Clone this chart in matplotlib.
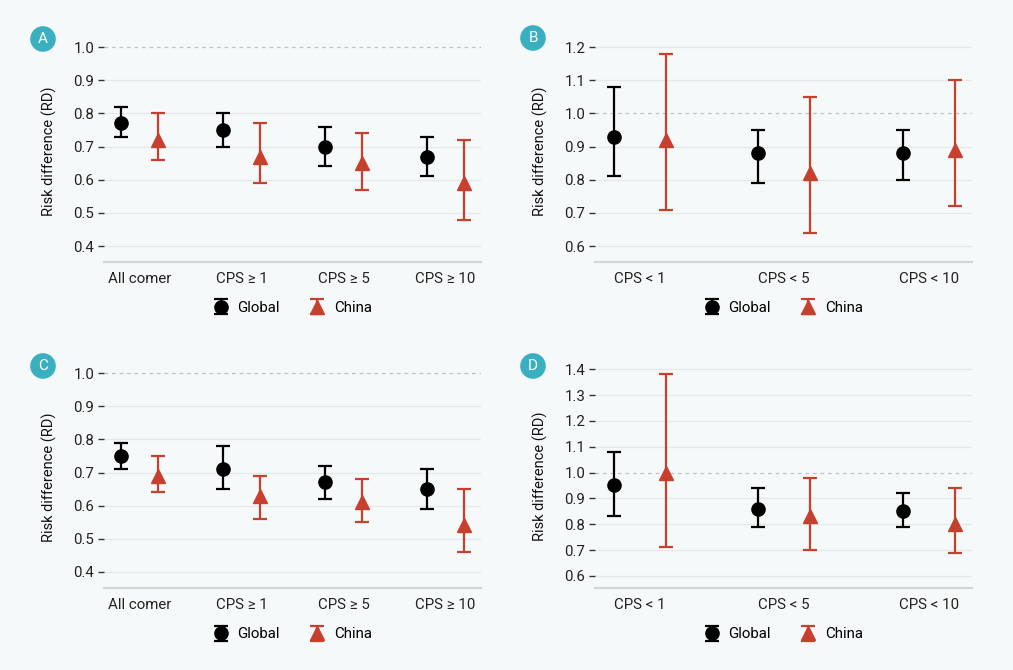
import matplotlib
matplotlib.use("Agg")
import matplotlib.pyplot as plt
import numpy as np

plt.rcParams["font.family"] = ["Roboto", "DejaVu Sans"]

# data
cats_ge = ["All comer", "CPS \u2265 1", "CPS \u2265 5", "CPS \u2265 10"]
cats_lt = ["CPS < 1", "CPS < 5", "CPS < 10"]

a_global = [0.77, 0.75, 0.70, 0.67]
a_global_lo = [0.73, 0.70, 0.64, 0.61]
a_global_hi = [0.82, 0.80, 0.76, 0.73]
a_china = [0.72, 0.67, 0.65, 0.59]
a_china_lo = [0.66, 0.59, 0.57, 0.48]
a_china_hi = [0.80, 0.77, 0.74, 0.72]

b_global = [0.93, 0.88, 0.88]
b_global_lo = [0.81, 0.79, 0.80]
b_global_hi = [1.08, 0.95, 0.95]
b_china = [0.92, 0.82, 0.89]
b_china_lo = [0.71, 0.64, 0.72]
b_china_hi = [1.18, 1.05, 1.10]

c_global = [0.75, 0.71, 0.67, 0.65]
c_global_lo = [0.71, 0.65, 0.62, 0.59]
c_global_hi = [0.79, 0.78, 0.72, 0.71]
c_china = [0.69, 0.63, 0.61, 0.54]
c_china_lo = [0.64, 0.56, 0.55, 0.46]
c_china_hi = [0.75, 0.69, 0.68, 0.65]

d_global = [0.95, 0.86, 0.85]
d_global_lo = [0.83, 0.79, 0.79]
d_global_hi = [1.08, 0.94, 0.92]
d_china = [1.00, 0.83, 0.80]
d_china_lo = [0.71, 0.70, 0.69]
d_china_hi = [1.38, 0.98, 0.94]

BG = "#f6f9f9"
RED = "#c7402d"
TEAL = "#3aafbf"
W, H = 1013, 670

fig = plt.figure(figsize=(W / 100, H / 100), dpi=100, facecolor=BG)


def make_axes(left, right, bottom, top):
    # pixel box -> figure fraction
    return fig.add_axes([left / W, (H - bottom) / H, (right - left) / W, (bottom - top) / H])


def panel(ax, cats, g, glo, ghi, c, clo, chi, ylim, yticks, xlim):
    ax.set_facecolor(BG)
    x = np.arange(1, len(cats) + 1)
    dodge = 0.18
    g = np.array(g); c = np.array(c)
    ax.errorbar(x - dodge, g, yerr=[g - np.array(glo), np.array(ghi) - g],
                fmt="o", color="black", ms=9.5, capsize=5, elinewidth=1.6,
                capthick=1.6, label="Global", zorder=4)
    ax.errorbar(x + dodge, c, yerr=[c - np.array(clo), np.array(chi) - c],
                fmt="^", color=RED, ms=9.5, capsize=5, elinewidth=1.6,
                capthick=1.6, label="China", zorder=4)
    ax.set_xlim(*xlim)
    ax.set_ylim(*ylim)
    ax.set_yticks(yticks)
    ax.set_yticklabels([f"{v:.1f}" for v in yticks])
    ax.set_xticks(x)
    ax.set_xticklabels(cats)
    for v in yticks:
        if abs(v - 1.0) > 1e-9:
            ax.axhline(v, color="#e6e9e9", lw=0.9, zorder=1)
    ax.axhline(1.0, color="#bfc2c2", lw=0.9, ls=(0, (3, 3)), zorder=1)
    for s in ["left", "right", "top"]:
        ax.spines[s].set_visible(False)
    ax.spines["bottom"].set_color("#d3d6d6")
    ax.spines["bottom"].set_linewidth(1.6)
    ax.tick_params(axis="y", length=4, width=1, color="#333333", pad=3,
                   labelsize=10.8, labelcolor="#222222")
    ax.tick_params(axis="x", length=0, pad=7, labelsize=10.8, labelcolor="#222222")
    ax.set_ylabel("Risk difference (RD)", fontsize=10.5, color="#111111", labelpad=12)


axA = make_axes(104, 481, 262, 40.4)
axB = make_axes(595, 972, 262, 40.4)
axC = make_axes(104, 481, 588.3, 366.7)
axD = make_axes(595, 972, 588.3, 364)

ticks_a = [0.4, 0.5, 0.6, 0.7, 0.8, 0.9, 1.0]
ticks_b = [0.6, 0.7, 0.8, 0.9, 1.0, 1.1, 1.2]
ticks_d = [0.6, 0.7, 0.8, 0.9, 1.0, 1.1, 1.2, 1.3, 1.4]

panel(axA, cats_ge, a_global, a_global_lo, a_global_hi, a_china, a_china_lo, a_china_hi,
      (0.352, 1.02), ticks_a, (0.65, 4.35))
panel(axB, cats_lt, b_global, b_global_lo, b_global_hi, b_china, b_china_lo, b_china_hi,
      (0.552, 1.22), ticks_b, (0.69, 3.30))
panel(axC, cats_ge, c_global, c_global_lo, c_global_hi, c_china, c_china_lo, c_china_hi,
      (0.35, 1.02), ticks_a, (0.65, 4.35))
panel(axD, cats_lt, d_global, d_global_lo, d_global_hi, d_china, d_china_lo, d_china_hi,
      (0.552, 1.42), ticks_d, (0.69, 3.30))

for ax in [axA, axB, axC, axD]:
    h_px = ax.get_position().height * H
    ax.legend(loc="center", bbox_to_anchor=(0.5, -46 / h_px), ncol=2, frameon=False,
              fontsize=10.8, handlelength=1.0, handletextpad=0.6, columnspacing=2.0)

# panel letters
for letter, (px, py) in zip("ABCD", [(43, 39), (533, 38), (43, 366), (533, 366)]):
    fig.text(px / W, 1 - py / H, letter, color="white", fontsize=11, ha="center",
             va="center", bbox=dict(boxstyle="circle,pad=0.38", fc=TEAL, ec="none"))

plt.savefig("out.png", dpi=100, facecolor=BG)
